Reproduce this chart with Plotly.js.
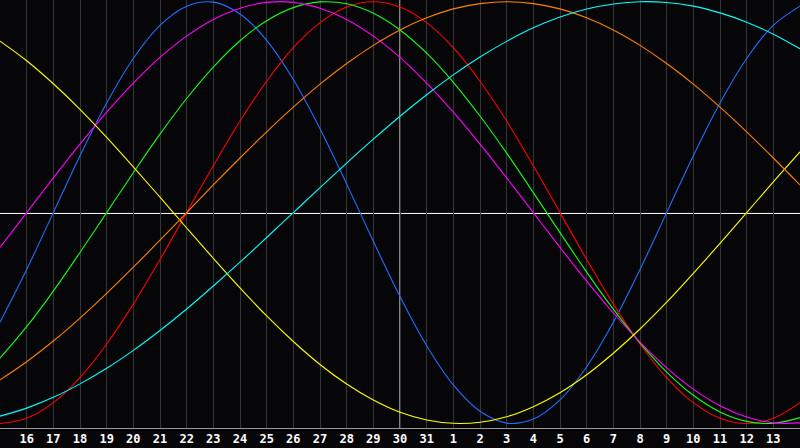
<!DOCTYPE html>
<html>
<head>
<meta charset="utf-8">
<script src="https://cdn.plot.ly/plotly-3.0.1.min.js"></script>
<style>
html,body{margin:0;padding:0;background:#060608;}
#chart{width:800px;height:448px;}
</style>
</head>
<body>
<div id="chart"></div>
<script>
// Day labels (15th of one month to 14th of the next); the 30th sits in the middle
const days = ["15","16","17","18","19","20","21","22","23","24","25","26","27","28","29","30","31",
              "1","2","3","4","5","6","7","8","9","10","11","12","13","14"];

// Cycle values per day (-1 .. 1)
const physical = [-0.520,-0.270,0,0.270,0.520,0.731,0.888,0.979,0.998,0.942,0.817,0.631,0.398,0.136,-0.136,-0.398,-0.631,-0.817,-0.942,-0.998,-0.979,-0.888,-0.731,-0.520,-0.270,0,0.270,0.520,0.731,0.888,0.979];
const emotional = [-1,-0.975,-0.901,-0.782,-0.623,-0.434,-0.222,0,0.222,0.434,0.623,0.782,0.901,0.975,1,0.975,0.901,0.782,0.623,0.434,0.222,0,-0.222,-0.434,-0.623,-0.782,-0.901,-0.975,-1,-0.975,-0.901];
const intellectual = [-0.690,-0.541,-0.372,-0.189,0,0.189,0.372,0.541,0.690,0.815,0.910,0.972,0.999,0.990,0.945,0.866,0.756,0.618,0.458,0.282,0.095,-0.095,-0.282,-0.458,-0.618,-0.756,-0.866,-0.945,-0.990,-0.999,-0.972];
const intuitive = [-0.165,0,0.165,0.325,0.476,0.614,0.736,0.837,0.916,0.969,0.997,0.997,0.969,0.916,0.837,0.736,0.614,0.476,0.325,0.165,0,-0.165,-0.325,-0.476,-0.614,-0.736,-0.837,-0.916,-0.969,-0.997,-0.997];
const aesthetic = [0.813,0.720,0.611,0.490,0.357,0.217,0.073,-0.073,-0.217,-0.357,-0.490,-0.611,-0.720,-0.813,-0.889,-0.947,-0.983,-0.999,-0.994,-0.968,-0.920,-0.854,-0.769,-0.667,-0.552,-0.425,-0.288,-0.146,0,0.146,0.288];
const awareness = [-0.793,-0.707,-0.609,-0.500,-0.383,-0.259,-0.131,0,0.131,0.259,0.383,0.500,0.609,0.707,0.793,0.866,0.924,0.966,0.991,1,0.991,0.966,0.924,0.866,0.793,0.707,0.609,0.500,0.383,0.259,0.131];
const spiritual = [-0.965,-0.927,-0.876,-0.812,-0.738,-0.653,-0.559,-0.457,-0.348,-0.235,-0.118,0,0.118,0.235,0.348,0.457,0.559,0.653,0.738,0.812,0.876,0.927,0.965,0.989,1.000,0.996,0.979,0.947,0.903,0.846,0.777];

const seriesNames = ["Physical","Emotional","Intellectual","Intuitive","Aesthetic","Awareness","Spiritual"];
const seriesValues = [physical, emotional, intellectual, intuitive, aesthetic, awareness, spiritual];
const seriesColors = ["#2070ff","#ff0000","#14ff14","#ff00ff","#ffff00","#ff8000","#00ffff"];

const xIdx = days.map((d,i)=>i);
const centerIdx = days.indexOf("30");

const traces = seriesValues.map((vals,i)=>({
  x: xIdx, y: vals, type:'scatter', mode:'lines', name: seriesNames[i],
  line:{color: seriesColors[i], width:1.1, shape:'spline', smoothing:1},
  hoverinfo:'skip'
}));

const tickIdx = xIdx.slice(1, xIdx.length-1);
const tickTxt = days.slice(1, days.length-1);

const layout = {
  width:800, height:448,
  margin:{l:0, r:0, t:0, b:20, pad:0},
  paper_bgcolor:'#060608', plot_bgcolor:'#060608',
  showlegend:false,
  xaxis:{
    range:[0, xIdx.length-1], fixedrange:true,
    tickmode:'array', tickvals:tickIdx, ticktext:tickTxt,
    showgrid:true, gridcolor:'#363636', gridwidth:1, zeroline:false,
    showline:true, linecolor:'#9a9a9a', linewidth:1, mirror:true,
    ticks:'', ticklen:0,
    tickfont:{family:'DejaVu Sans Mono', size:12, color:'#ffffff', weight:'bold'}
  },
  yaxis:{
    range:[-1.0213, 1.0081], fixedrange:true,
    showgrid:false, zeroline:false, showticklabels:false,
    showline:true, linecolor:'#8a8a8a', linewidth:1, mirror:false, ticks:''
  },
  shapes:[
    {type:'line', xref:'x', yref:'paper', x0:centerIdx, x1:centerIdx, y0:0, y1:1, line:{color:'#ffffff', width:1}, layer:'below'},
    {type:'line', xref:'paper', yref:'y', x0:0, x1:1, y0:-0.004, y1:-0.004, line:{color:'#ffffff', width:1}, layer:'below'}
  ]
};

Plotly.newPlot('chart', traces, layout, {displayModeBar:false, staticPlot:true});
</script>
</body>
</html>
